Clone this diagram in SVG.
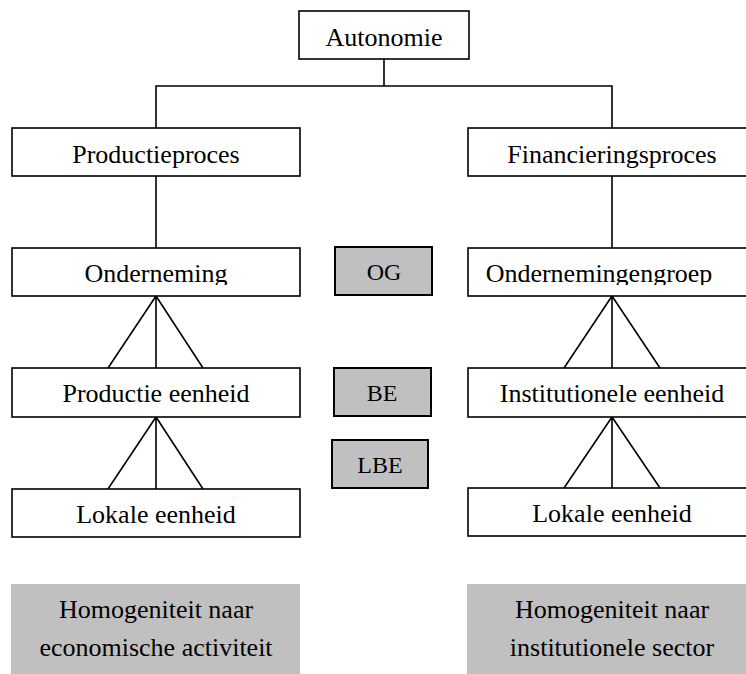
<svg xmlns="http://www.w3.org/2000/svg" width="746" height="674" viewBox="0 0 746 674">
<style>
.box{fill:#fff;stroke:#000;stroke-width:1.6}
.tag{fill:#c0c0c0;stroke:#000;stroke-width:2}
.note{fill:#c0c0c0;stroke:none}
text{font-family:'Liberation Serif','DejaVu Serif',serif;fill:#000;text-anchor:middle}
.t{font-size:26px}
.ts{font-size:24px}
.c{fill:none;stroke:#000;stroke-width:1.6}
</style>
<defs>
<clipPath id="clipL"><rect x="12" y="248" width="288" height="37"/></clipPath>
<clipPath id="clipR"><rect x="468" y="248" width="288" height="37"/></clipPath>
</defs>
<rect width="746" height="674" fill="#fff"/>
<g id="connectors">
<path class="c" d="M384 59V86M156 128V86H612V128M156 176V248M612 176V248"/>
<path class="c" d="M156 296L108 368M156 296V368M156 296L203 368"/>
<path class="c" d="M156 417L108 489M156 417V489M156 417L203 489"/>
<path class="c" d="M612 296L564 368M612 296V368M612 296L660 368"/>
<path class="c" d="M612 417L564 488M612 417V488M612 417L660 488"/>
</g>
<g id="autonomie"><rect class="box" x="299" y="11" width="170" height="48"/><text class="t" x="384" y="46" font-family="Liberation Serif, serif">Autonomie</text></g>
<g id="productieproces"><rect class="box" x="12" y="128" width="288" height="48"/><text class="t" x="156" y="163">Productieproces</text></g>
<g id="financieringsproces"><rect class="box" x="468" y="128" width="288" height="48"/><text class="t" x="612" y="163">Financieringsproces</text></g>
<g id="onderneming"><rect class="box" x="12" y="248" width="288" height="48"/><text class="t" x="156" y="282" clip-path="url(#clipL)">Onderneming</text></g>
<g id="og"><rect class="tag" x="335" y="247" width="97" height="48"/><text class="ts" x="384" y="280">OG</text></g>
<g id="ondernemingengroep"><rect class="box" x="468" y="248" width="288" height="48"/><text class="t" x="599" y="282" clip-path="url(#clipR)">Ondernemingengroep</text></g>
<g id="productie-eenheid"><rect class="box" x="12" y="368" width="288" height="49"/><text class="t" x="156" y="402">Productie eenheid</text></g>
<g id="be"><rect class="tag" x="334" y="368" width="97" height="48"/><text class="ts" x="382" y="401">BE</text></g>
<g id="institutionele-eenheid"><rect class="box" x="468" y="368" width="288" height="49"/><text class="t" x="612" y="402">Institutionele eenheid</text></g>
<g id="lbe"><rect class="tag" x="332" y="440" width="96" height="48"/><text class="ts" x="380" y="473">LBE</text></g>
<g id="lokale-eenheid-l"><rect class="box" x="12" y="489" width="288" height="48"/><text class="t" x="156" y="523">Lokale eenheid</text></g>
<g id="lokale-eenheid-r"><rect class="box" x="468" y="488" width="288" height="48"/><text class="t" x="612" y="522">Lokale eenheid</text></g>
<g id="homogeniteit-l"><rect class="note" x="11" y="584" width="289" height="90"/><text class="t" x="156" y="618">Homogeniteit naar</text><text class="t" x="156" y="656">economische activiteit</text></g>
<g id="homogeniteit-r"><rect class="note" x="467" y="584" width="290" height="90"/><text class="t" x="612" y="618">Homogeniteit naar</text><text class="t" x="612" y="656">institutionele sector</text></g>
</svg>
